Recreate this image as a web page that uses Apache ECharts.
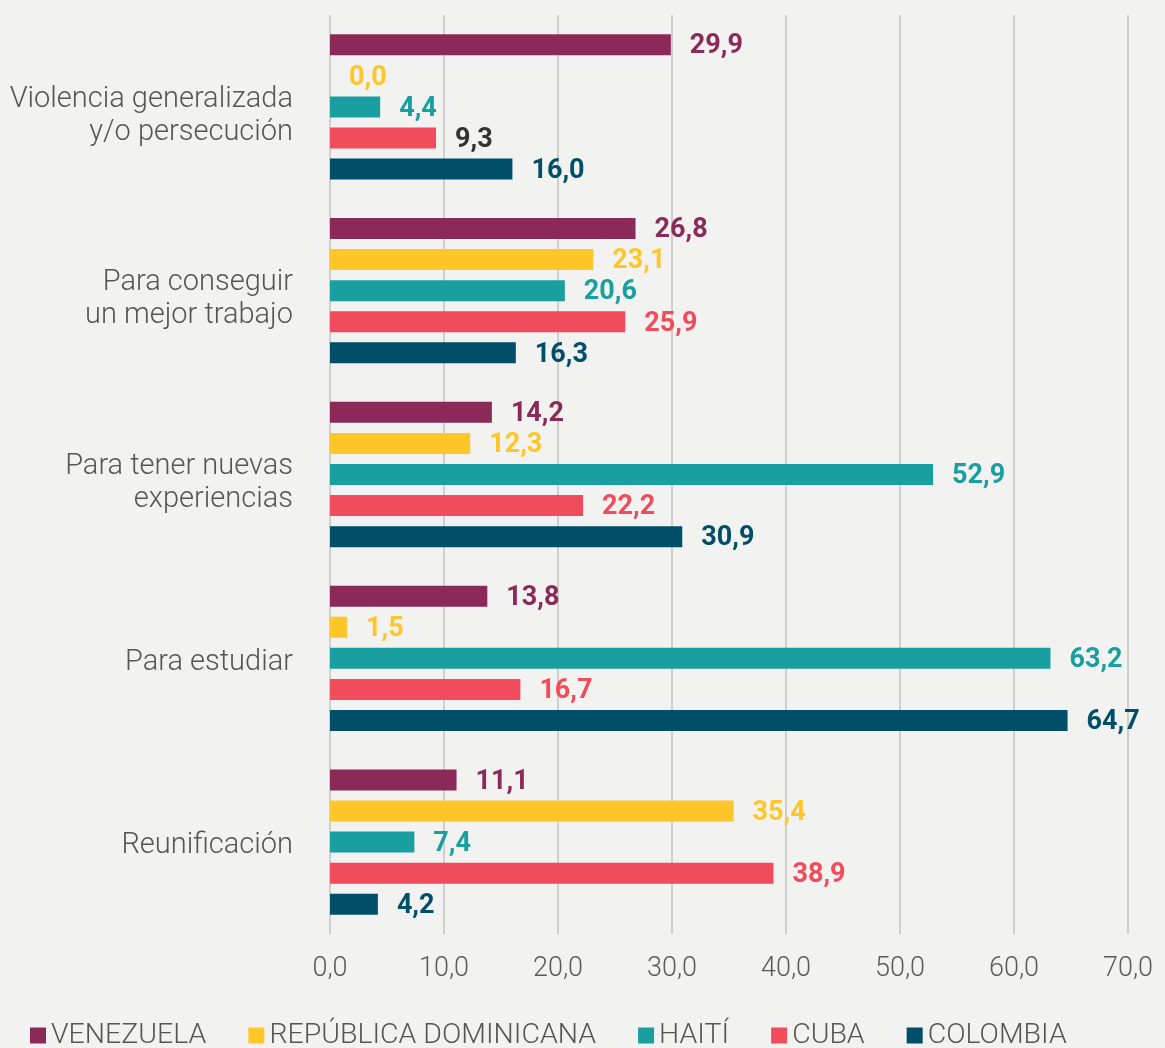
<!DOCTYPE html>
<html>
<head>
<meta charset="utf-8">
<script src="https://cdn.jsdelivr.net/npm/echarts@6/dist/echarts.min.js"></script>
<style>
  html, body { margin: 0; padding: 0; background: #f2f2f0; }
  #chart { width: 1165px; height: 1048px; }
</style>
</head>
<body>
<div id="chart"></div>
<script>
// categories, top to bottom
const categories = [
  'Violencia generalizada\ny/o persecución',
  'Para conseguir\nun mejor trabajo',
  'Para tener nuevas\nexperiencias',
  'Para estudiar',
  'Reunificación'
]

const venezuela = [29.9, 26.8, 14.2, 13.8, 11.1]
const republicaDominicana = [0.0, 23.1, 12.3, 1.5, 35.4]
const haiti = [4.4, 20.6, 52.9, 63.2, 7.4]
const cuba = [9.3, 25.9, 22.2, 16.7, 38.9]
const colombia = [16.0, 16.3, 30.9, 64.7, 4.2]

const seriesNames = ['VENEZUELA', 'REPÚBLICA DOMINICANA', 'HAITÍ', 'CUBA', 'COLOMBIA']
const colors = ['#8b2a58', '#ffc629', '#1a9fa1', '#f04c5c', '#004f68']

const fmt = v => Number(v).toFixed(1).replace('.', ',')

function makeSeries(name, data, color) {
  return {
    name: name,
    type: 'bar',
    barWidth: 21,
    barGap: '48%',
    itemStyle: { color: color },
    label: {
      show: true,
      position: 'right',
      distance: 19,
      offset: [0, 2],
      color: color,
      fontFamily: 'Roboto',
      fontWeight: 'bold',
      fontSize: 27,
      formatter: p => fmt(p.value)
    },
    data: data
  }
}

const seriesList = [venezuela, republicaDominicana, haiti, cuba, colombia]
  .map((d, i) => makeSeries(seriesNames[i], d, colors[i]))

// the 9,3 label of Cuba in the first group is drawn dark
seriesList[3].data = cuba.map((v, i) => i === 0 ? { value: v, label: { color: '#333333' } } : v)

const catText = { fontFamily: 'Roboto', fontWeight: 300, fontSize: 29, color: '#555555', align: 'right' }

const chart = echarts.init(document.getElementById('chart'))
chart.setOption({
  backgroundColor: '#f2f2f0',
  animation: false,
  textStyle: { fontFamily: 'Roboto' },
  legend: {
    data: seriesNames,
    left: 25,
    top: 1016,
    itemWidth: 16,
    itemHeight: 16,
    itemGap: 42,
    icon: 'rect',
    textStyle: {
      fontFamily: 'Roboto',
      fontWeight: 300,
      fontSize: 28.5,
      color: '#555555'
    }
  },
  grid: {
    left: 330,
    right: 37,
    top: 15,
    bottom: 114,
    containLabel: false
  },
  xAxis: {
    type: 'value',
    min: 0,
    max: 70,
    interval: 10,
    axisLine: { show: false },
    axisTick: { show: false },
    splitLine: { lineStyle: { color: '#cfcfcd', width: 2 } },
    axisLabel: {
      margin: 22,
      fontFamily: 'Roboto',
      fontWeight: 300,
      fontSize: 27,
      color: '#5a5a5a',
      formatter: v => fmt(v)
    }
  },
  yAxis: {
    type: 'category',
    inverse: true,
    data: categories,
    axisLine: { show: false },
    axisTick: { show: false },
    axisLabel: {
      margin: 37,
      fontFamily: 'Roboto',
      fontWeight: 300,
      fontSize: 29,
      color: '#555555',
      align: 'right',
      formatter: v => {
        const lines = v.split('\n')
        if (lines.length === 1) return '{s|' + v + '}'
        return '{d|' + lines[0] + '}\n{t|' + lines[1] + '}'
      },
      rich: {
        s: Object.assign({}, catText, { lineHeight: 34, padding: [8, 0, 0, 0] }),
        d: Object.assign({}, catText, { lineHeight: 51 }),
        t: Object.assign({}, catText, { lineHeight: 15 })
      }
    }
  },
  series: seriesList
})
</script>
</body>
</html>
